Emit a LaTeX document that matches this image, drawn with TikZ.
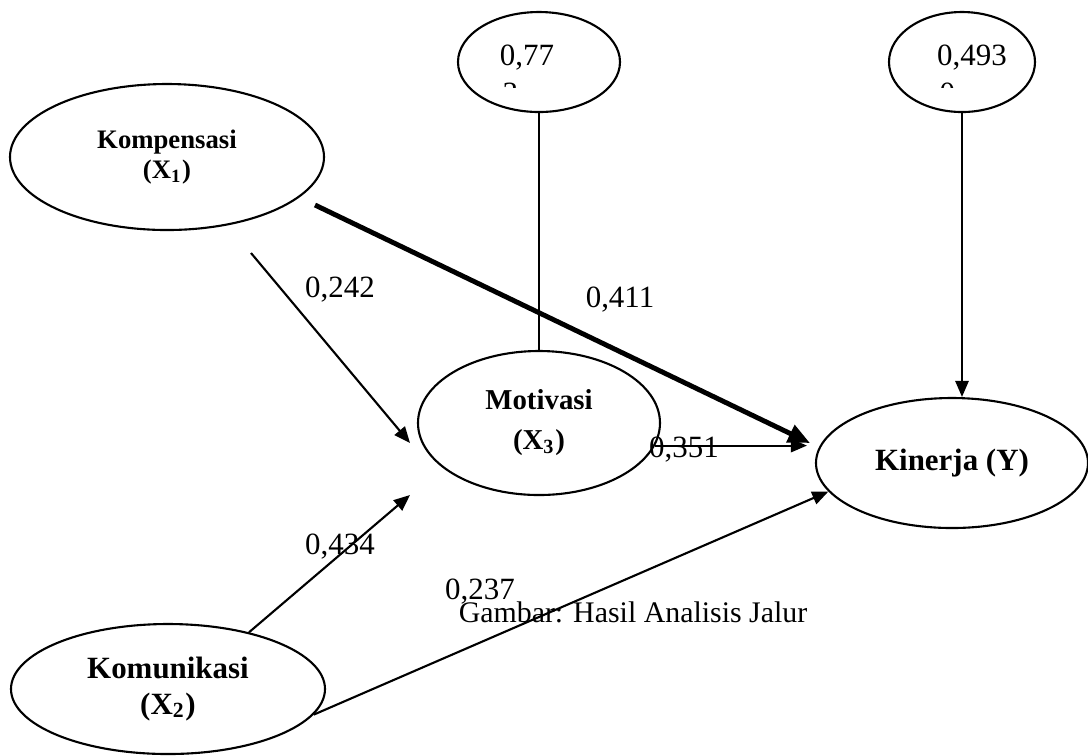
\documentclass[tikz,border=0pt]{standalone}
\usepackage{fontspec}
\setmainfont{Liberation Serif}
\usetikzlibrary{shapes,arrows.meta}

\begin{document}
\begin{tikzpicture}
    % Define styles
    \tikzstyle{var} = [ellipse, draw, line width=0.6pt, inner sep=0pt, align=center]
    \tikzstyle{err} = [ellipse, draw, line width=0.6pt, inner sep=0pt, minimum height=1cm]
    \tikzstyle{line} = [draw, line width=0.6pt, -{Triangle[length=4.6pt,width=3.8pt]}]
    \tikzstyle{heavy} = [draw, line width=1.4pt, -{Triangle[length=6.2pt,width=5.2pt]}]
    \tikzstyle{coef} = [inner sep=0pt, font=\fontsize{8.8pt}{10pt}\selectfont]

    \useasboundingbox (0,0) rectangle (10.88,-7.55);

    % Place nodes
    \node [var, minimum width=3.14cm, minimum height=1.46cm,
        font=\bfseries\fontsize{7.6pt}{8.6pt}\selectfont] (komp) at (1.67,-1.57) {Kompensasi\\(X\textsubscript{1})};
    \node [var, minimum width=2.42cm, minimum height=1.44cm,
        font=\bfseries\fontsize{8.2pt}{11.4pt}\selectfont] (motiv) at (5.39,-4.23) {Motivasi\\(X\textsubscript{3})};
    \node [var, minimum width=3.14cm, minimum height=1.30cm,
        font=\bfseries\fontsize{8.8pt}{10pt}\selectfont] (kom) at (1.68,-6.89) {Komunikasi\\(X\textsubscript{2})};
    \node [var, minimum width=2.72cm, minimum height=1.30cm,
        font=\bfseries\fontsize{8.8pt}{10pt}\selectfont] (kin) at (9.52,-4.63) {Kinerja (Y)};
    \node [err, minimum width=1.62cm] (e1) at (5.39,-0.62) {};
    \node [err, minimum width=1.46cm] (e2) at (9.62,-0.62) {};

    % Residual values
    \node [coef] (r1) at (5.27,-0.575) {0,77};
    \node [coef] (r2) at (9.72,-0.575) {0,493};
    \begin{scope}
        \clip (4.6,-0.75) rectangle (10.4,-0.87);
        \node [coef, anchor=base west] (r1b) at (5.02,-1.03) {3};
        \node [coef, anchor=base west] (r2b) at (9.39,-1.03) {0};
    \end{scope}

    % Free ends
    \coordinate (a242) at (2.51,-2.53);
    \coordinate (b242) at (4.10,-4.43);
    \coordinate (b434) at (4.10,-4.95);
    \coordinate (a411) at (3.15,-2.05);
    \coordinate (b411) at (8.10,-4.43);

    % Draw edges
    \path [line] (a242) -- (b242);
    \path [line] (kom.35) -- (b434);
    \path [heavy] (a411) -- (b411);
    \path [line, shorten >=0.08cm] (motiv.-11) -- (motiv.-11 -| kin.west);
    \path [line] (kom.-10) -- (kin.193);
    \path [line] (e2.south) -- (e2.south |- kin.north);
    \draw [line width=0.6pt] (e1.south) -- (motiv.north);

    % Path coefficients
    \node [coef] (l242) at (3.40,-2.90) {0,242};
    \node [coef] (l434) at (3.40,-5.47) {0,434};
    \node [coef] (l411) at (6.20,-3.00) {0,411};
    \node [coef] (l351) at (6.84,-4.50) {0,351};
    \node [coef] (l237) at (4.80,-5.92) {0,237};
    \node [coef, font=\fontsize{8.5pt}{10pt}\selectfont] (cap) at (6.33,-6.12) {Gambar: Hasil Analisis Jalur};
\end{tikzpicture}
\end{document}
